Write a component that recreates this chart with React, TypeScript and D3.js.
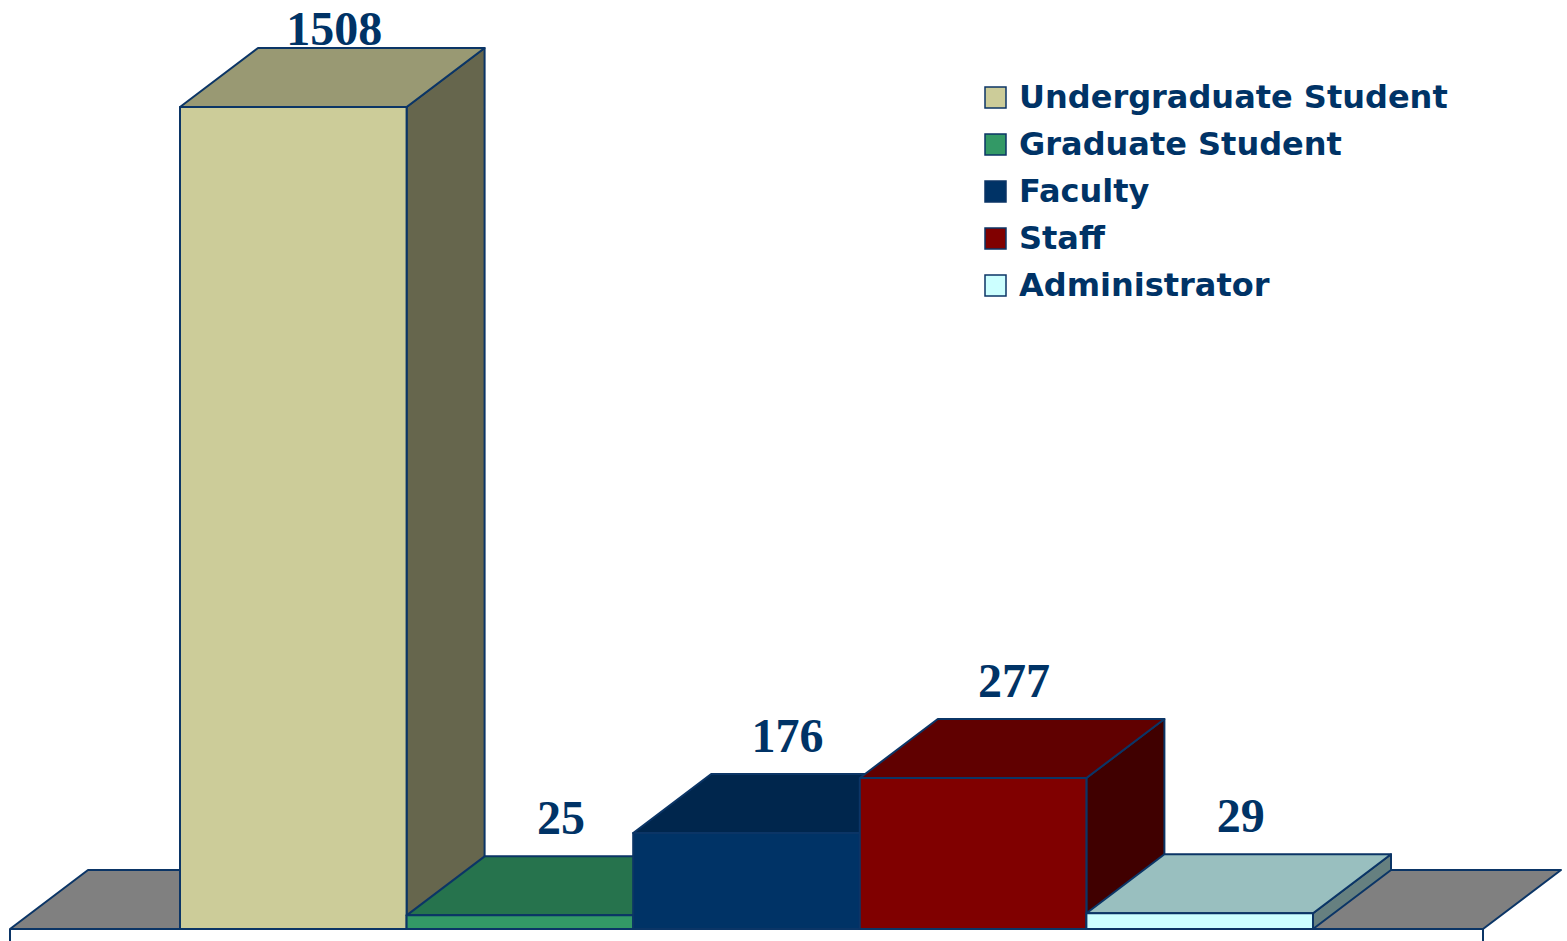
import { useEffect, useRef } from "react";
import * as d3 from "d3";

// data
const categories = ["Undergraduate Student", "Graduate Student", "Faculty", "Staff", "Administrator"];
const counts = [1508, 25, 176, 277, 29];
const colors = ["#CCCC99", "#339966", "#003366", "#800000", "#CCFFFF"];

const W = 1567;
const H = 941;

const App = () => {
    const ref = useRef<SVGSVGElement>(null);

    useEffect(() => {
        document.body.style.margin = "0";
        const svg = d3.select(ref.current);
        svg.selectAll("*").remove();

        const outline = "#0B3566";
        const textColor = "#003366";
        const depthX = 78, depthY = 59;
        const floorPad = 170;

        var x = d3.scaleBand<string>()
            .domain(categories)
            .range([180, 1313])
            .padding(0);
        var y = d3.scaleLinear()
            .domain([0, 1508])
            .range([929, 107]);

        const base = y(0);
        const line = (pts: [number, number][]) => "M" + pts.map(p => p.join(",")).join("L") + "Z";

        // floor
        const fx0 = x.range()[0] - floorPad, fx1 = x.range()[1] + floorPad;
        svg.append("path")
            .attr("d", line([[fx0, base], [fx0 + depthX, base - depthY], [fx1 + depthX, base - depthY], [fx1, base]]))
            .attr("fill", "#808080")
            .attr("stroke", outline)
            .attr("stroke-width", 2)
            .attr("stroke-linejoin", "round");
        [fx0, fx1].forEach(fx => {
            svg.append("line")
                .attr("x1", fx).attr("x2", fx)
                .attr("y1", base).attr("y2", H)
                .attr("stroke", outline).attr("stroke-width", 2);
        });

        // bars, left to right so each one hides the previous side face
        categories.forEach((c, i) => {
            const x0 = x(c)!;
            const x1 = x0 + x.bandwidth();
            const top = y(counts[i]);
            const col = d3.color(colors[i])!;
            const shade = (k: number) => {
                const r = d3.rgb(col);
                return d3.rgb(r.r * k, r.g * k, r.b * k).formatHex();
            };
            const g = svg.append("g")
                .attr("stroke", outline)
                .attr("stroke-width", 2)
                .attr("stroke-linejoin", "round");
            // side
            g.append("path")
                .attr("d", line([[x1, top], [x1 + depthX, top - depthY], [x1 + depthX, base - depthY], [x1, base]]))
                .attr("fill", shade(0.5));
            // top
            g.append("path")
                .attr("d", line([[x0, top], [x0 + depthX, top - depthY], [x1 + depthX, top - depthY], [x1, top]]))
                .attr("fill", shade(0.75));
            // front
            g.append("rect")
                .attr("x", x0)
                .attr("y", top)
                .attr("width", x.bandwidth())
                .attr("height", base - top)
                .attr("fill", colors[i]);
        });

        // value labels
        svg.append("g")
            .selectAll("text")
            .data(categories)
            .join("text")
            .attr("x", (c) => x(c)! + x.bandwidth() / 2 + depthX / 2 + 2)
            .attr("y", (c, i) => Math.max(y(counts[i]) - depthY - 22, 45))
            .attr("text-anchor", "middle")
            .attr("font-family", "'Liberation Serif', 'Times New Roman', serif")
            .attr("font-weight", "bold")
            .attr("font-size", 48)
            .attr("fill", textColor)
            .text((c, i) => counts[i]);

        // legend
        const legend = svg.append("g").attr("transform", "translate(985, 0)");
        var ly = d3.scalePoint<string>()
            .domain(categories)
            .range([97, 285]);
        categories.forEach((c, i) => {
            legend.append("rect")
                .attr("x", 0)
                .attr("y", ly(c)! - 10)
                .attr("width", 21)
                .attr("height", 21)
                .attr("fill", colors[i])
                .attr("stroke", outline)
                .attr("stroke-width", 1.5);
            legend.append("text")
                .attr("x", 34)
                .attr("y", ly(c)! + 11)
                .attr("font-family", "'DejaVu Sans', Verdana, sans-serif")
                .attr("font-weight", "bold")
                .attr("font-size", 32)
                .attr("fill", textColor)
                .text(c);
        });
    }, []);

    return <svg ref={ref} width={W} height={H} style={{ display: "block", background: "#fff" }}></svg>;
};

export default App;
